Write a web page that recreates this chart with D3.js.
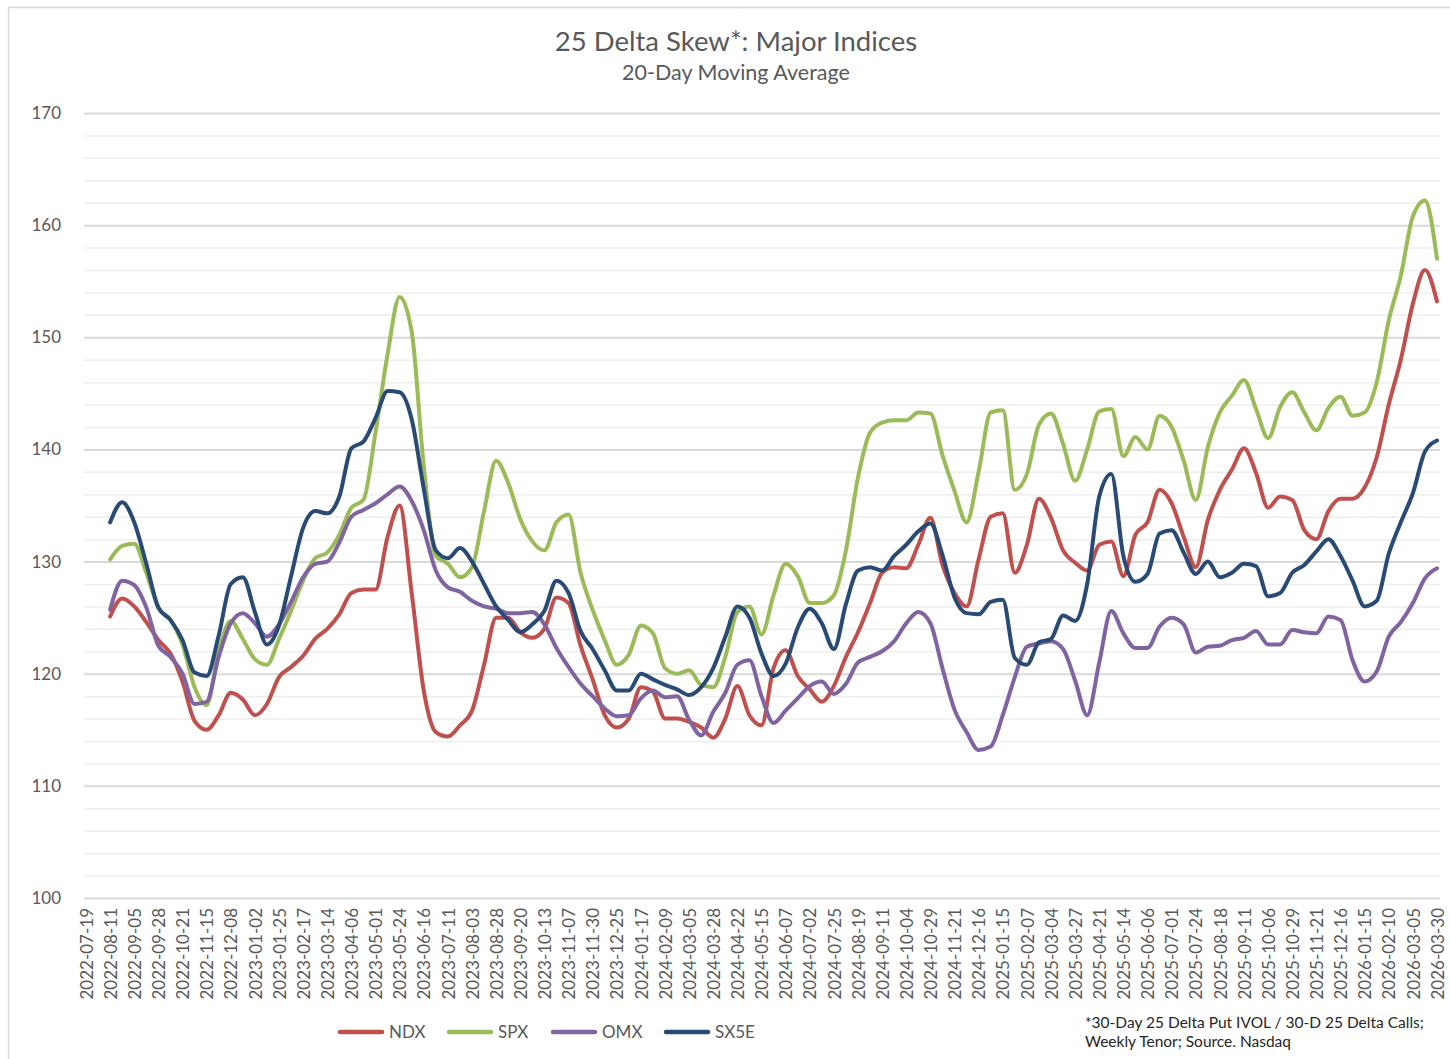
<!DOCTYPE html>
<html>
<head>
<meta charset="utf-8">
<script src="https://cdn.jsdelivr.net/npm/d3@7"></script>
<style>
  html, body { margin: 0; padding: 0; background: #fff; }
  svg { display: block; }
  text { font-family: Lato, "Open Sans", sans-serif; }
</style>
</head>
<body>
<script>
// 25 delta skew chart, 20-day moving average

var tickLabels = ["2022-07-19","2022-08-11","2022-09-05","2022-09-28","2022-10-21","2022-11-15","2022-12-08",
  "2023-01-02","2023-01-25","2023-02-17","2023-03-14","2023-04-06","2023-05-01","2023-05-24","2023-06-16",
  "2023-07-11","2023-08-03","2023-08-28","2023-09-20","2023-10-13","2023-11-07","2023-11-30","2023-12-25",
  "2024-01-17","2024-02-09","2024-03-05","2024-03-28","2024-04-22","2024-05-15","2024-06-07","2024-07-02",
  "2024-07-25","2024-08-19","2024-09-11","2024-10-04","2024-10-29","2024-11-21","2024-12-16",
  "2025-01-15","2025-02-07","2025-03-04","2025-03-27","2025-04-21","2025-05-14","2025-06-06","2025-07-01",
  "2025-07-24","2025-08-18","2025-09-11","2025-10-06","2025-10-29","2025-11-21","2025-12-16",
  "2026-01-15","2026-02-10","2026-03-05","2026-03-30"];

// series sampled every half label step, starting at the 2nd label (2022-08-11)
var seriesStart = 1;
var seriesStep = 0.5;

var ndx = [125.1,126.7,126.0,124.6,123.0,121.8,119.3,115.8,115.0,116.3,118.3,117.7,116.3,117.3,119.7,120.6,
  121.6,123.1,124.0,125.3,127.2,127.5,127.5,132.2,135.0,127.2,118.5,114.8,114.4,115.4,116.7,120.8,
  125.0,125.0,123.7,123.2,124.0,126.8,126.3,122.5,119.5,116.3,115.2,116.0,118.8,118.4,116.0,116.0,
  115.7,115.2,114.3,116.0,118.9,116.3,115.4,120.5,122.1,119.8,118.6,117.5,118.9,121.5,123.7,126.3,
  129.0,129.5,129.4,131.5,133.9,129.7,127.2,126.0,130.2,134.0,134.3,129.0,131.5,135.6,133.9,131.0,
  129.9,129.2,131.5,131.8,128.7,132.4,133.5,136.4,135.2,132.2,129.5,133.7,136.4,138.2,140.1,137.9,
  134.8,135.8,135.5,132.8,132.0,134.5,135.6,135.6,136.6,139.3,144.0,148.0,153.0,156.0,153.2];

var spx = [130.2,131.4,131.6,129.0,125.9,124.8,122.6,118.8,117.2,122.0,124.7,123.1,121.3,120.8,123.1,125.6,
  128.3,130.3,130.8,132.4,134.8,135.5,141.5,148.5,153.6,150.5,138.5,130.5,129.8,128.6,129.5,134.5,
  139.0,137.0,133.8,131.8,131.0,133.5,134.2,129.0,125.7,123.0,120.8,121.7,124.3,123.6,120.5,120.0,
  120.3,119.0,118.8,121.5,125.5,126.0,123.5,127.0,129.8,128.7,126.3,126.3,127.0,131.0,137.5,141.5,
  142.4,142.6,142.6,143.3,143.2,139.5,136.3,133.5,138.0,143.3,143.5,136.4,137.8,142.2,143.2,140.5,
  137.2,140.0,143.4,143.6,139.4,141.1,140.0,143.0,142.0,139.0,135.5,140.2,143.3,144.8,146.2,143.6,
  141.0,143.8,145.1,143.3,141.7,143.7,144.7,143.0,143.3,146.0,151.5,155.5,160.8,162.2,157.0];

var omx = [125.7,128.3,127.9,125.9,122.5,121.5,120.0,117.3,117.5,121.5,124.5,125.4,124.5,123.3,124.4,126.4,
  128.6,129.8,130.0,131.7,134.0,134.6,135.2,136.0,136.7,135.4,132.8,129.2,127.7,127.3,126.5,126.0,
  125.8,125.4,125.4,125.5,124.4,122.3,120.6,119.1,118.0,116.9,116.2,116.3,117.8,118.5,117.9,118.0,
  115.9,114.5,116.6,118.3,120.8,121.2,118.0,115.6,116.7,117.8,118.9,119.3,118.2,119.1,121.0,121.5,
  122.0,122.9,124.5,125.5,124.5,120.5,116.8,114.8,113.2,113.5,116.3,119.7,122.4,122.7,122.9,122.2,
  119.4,116.3,121.0,125.6,123.6,122.3,122.3,124.2,125.0,124.4,121.9,122.4,122.5,123.0,123.2,123.8,
  122.6,122.6,123.9,123.7,123.6,125.1,124.8,121.2,119.3,120.2,123.3,124.6,126.3,128.5,129.4];

var sx5e = [133.5,135.3,133.5,129.8,125.9,124.8,123.0,120.1,119.8,123.4,128.0,128.6,125.5,122.6,124.3,128.7,
  133.0,134.5,134.3,135.8,140.1,140.7,142.8,145.2,145.1,142.7,136.5,131.0,130.3,131.2,130.0,128.0,
  126.0,124.8,123.7,124.4,125.6,128.3,127.2,123.8,122.2,120.3,118.5,118.5,120.0,119.5,119.0,118.6,
  118.1,118.8,120.5,123.3,126.0,125.0,121.8,119.8,120.9,124.1,125.8,124.5,122.2,126.2,129.2,129.5,
  129.2,130.5,131.5,132.7,133.4,130.6,126.8,125.4,125.3,126.4,126.6,121.4,120.8,122.8,123.1,125.2,
  124.7,128.0,135.8,137.8,130.5,128.2,128.9,132.5,132.8,130.8,128.9,130.0,128.6,129.0,129.8,129.6,
  126.9,127.2,129.0,129.7,130.9,132.0,130.5,128.3,126.0,126.5,130.7,133.5,136.1,139.8,140.8];

var seriesNames = ["NDX", "SPX", "OMX", "SX5E"];
var seriesValues = [ndx, spx, omx, sx5e];
var seriesColors = ["#c0504d", "#9bbb59", "#8064a2", "#284a74"];

var yMin = 100, yMax = 170;

var width = 1450, height = 1059;

var svg = d3.select("body").append("svg")
  .attr("width", width)
  .attr("height", height);

// chart frame
svg.append("rect")
  .attr("x", 8.5).attr("y", 7.5)
  .attr("width", 1470).attr("height", 1070)
  .attr("fill", "#fff")
  .attr("stroke", "#d9d9d9")
  .attr("stroke-width", 1.5);

var plotLeft = 84, plotRight = 1440;

var x = d3.scaleLinear().domain([0, tickLabels.length - 1]).range([86, 1437]);
var y = d3.scaleLinear().domain([yMin, yMax]).range([898, 113]);

// minor gridlines every 2
svg.append("g").selectAll("line")
  .data(d3.range(yMin, yMax + 1, 2).filter(function (v) { return v % 10 !== 0; }))
  .enter().append("line")
  .attr("x1", plotLeft).attr("x2", plotRight)
  .attr("y1", function (d) { return y(d) + 0.5; })
  .attr("y2", function (d) { return y(d) + 0.5; })
  .attr("stroke", "#eeeeee")
  .attr("stroke-width", 1.5);

// major gridlines + labels
var yAxis = svg.append("g")
  .attr("transform", "translate(" + plotLeft + ",0)")
  .call(d3.axisLeft(y).tickValues(d3.range(yMin, yMax + 1, 10)).tickSize(-(plotRight - plotLeft)).tickPadding(23));
yAxis.select(".domain").remove();
yAxis.selectAll(".tick line").attr("stroke", "#d9d9d9").attr("stroke-width", 2);
yAxis.selectAll(".tick text")
  .attr("fill", "#595959")
  .style("font-size", "17px");

// x axis labels
var xAxis = svg.append("g")
  .attr("transform", "translate(0,898)")
  .call(d3.axisBottom(x).tickValues(d3.range(tickLabels.length))
    .tickFormat(function (i) { return tickLabels[i]; }).tickSize(0));
xAxis.select(".domain").remove();
xAxis.selectAll(".tick text")
  .attr("fill", "#595959")
  .style("font-size", "17px")
  .attr("text-anchor", "end")
  .attr("transform", "rotate(-90)")
  .attr("x", -10)
  .attr("y", 0)
  .attr("dy", "0.36em");

// lines
var line = d3.line()
  .x(function (d, i) { return x(seriesStart + i * seriesStep); })
  .y(function (d) { return y(d); })
  .curve(d3.curveMonotoneX);

svg.append("g").selectAll("path")
  .data(seriesValues)
  .enter().append("path")
  .attr("d", line)
  .attr("fill", "none")
  .attr("stroke", function (d, i) { return seriesColors[i]; })
  .attr("stroke-width", 4)
  .attr("stroke-linejoin", "round")
  .attr("stroke-linecap", "round");

// titles
svg.append("text")
  .attr("x", 736).attr("y", 51)
  .attr("text-anchor", "middle")
  .attr("fill", "#595959")
  .style("font-size", "27.5px")
  .text("25 Delta Skew*: Major Indices");

svg.append("text")
  .attr("x", 736).attr("y", 80)
  .attr("text-anchor", "middle")
  .attr("fill", "#595959")
  .style("font-size", "21.5px")
  .text("20-Day Moving Average");

// legend
var legendX = [338, 447, 551, 664];
var legend = svg.append("g").selectAll("g")
  .data(seriesNames)
  .enter().append("g")
  .attr("transform", function (d, i) { return "translate(" + legendX[i] + ",1032)"; });
legend.append("line")
  .attr("x1", 2).attr("x2", 44)
  .attr("stroke", function (d, i) { return seriesColors[i]; })
  .attr("stroke-width", 4.5)
  .attr("stroke-linecap", "round");
legend.append("text")
  .attr("x", 51).attr("dy", "0.36em")
  .attr("fill", "#595959")
  .style("font-size", "17px")
  .text(function (d) { return d; });

// footnote
var note = svg.append("text")
  .attr("x", 1085).attr("y", 1028)
  .attr("fill", "#262626")
  .style("font-size", "15.5px");
note.append("tspan").attr("x", 1085).text("*30-Day 25 Delta Put IVOL / 30-D 25 Delta Calls;");
note.append("tspan").attr("x", 1085).attr("dy", 19).text("Weekly Tenor; Source. Nasdaq");
</script>
</body>
</html>
